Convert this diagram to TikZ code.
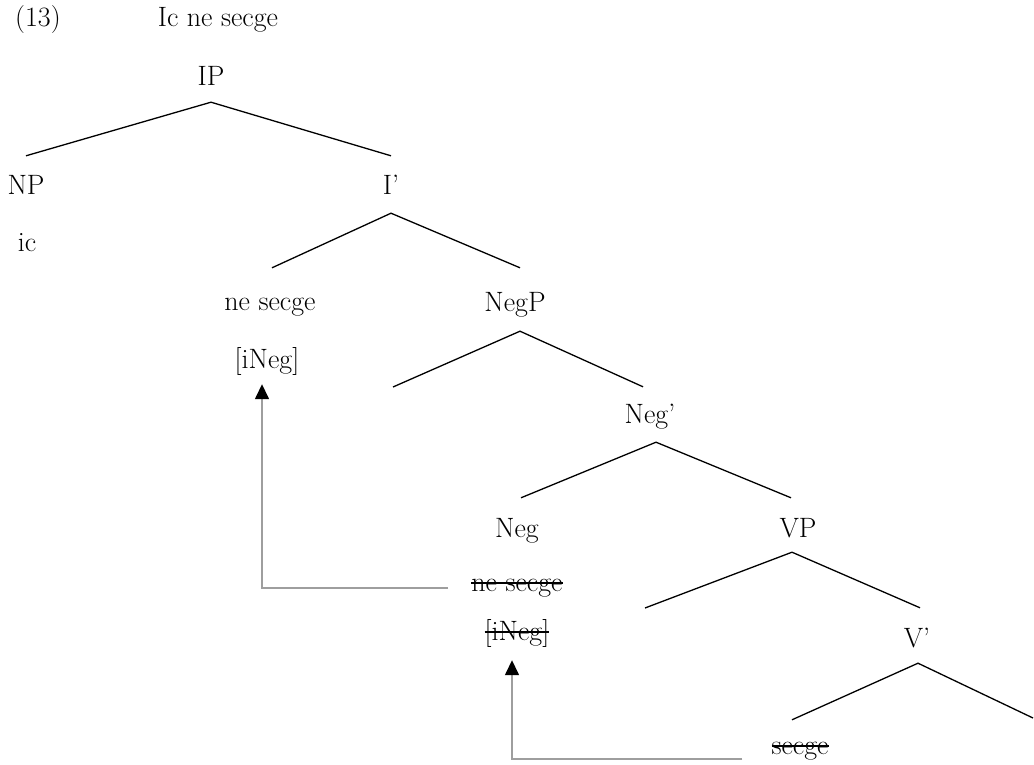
\documentclass[tikz,border=0pt]{standalone}
\usetikzlibrary{arrows.meta}

% strike a line through a piece of text
\newsavebox\strikebox
\newcommand\struck[1]{\sbox\strikebox{#1}\rlap{\usebox\strikebox}\rule[0.25em]{\wd\strikebox}{0.07em}}

\begin{document}
\begin{tikzpicture}[x=1pt,y=-1pt,
  lbl/.style={anchor=base,inner sep=0pt,text height=20pt,text depth=7pt,
              font=\fontsize{28}{32}\selectfont},
  branch/.style={line width=1.3pt,black},
  mv/.style={line width=1.5pt,draw=black!38,
             -{Triangle[length=15pt,width=14pt,color=black]}}]
\useasboundingbox (0,0) rectangle (1034,765);

% heading
\node[lbl] (num)   at (38,27)  {(13)};
\node[lbl] (title) at (218,27) {Ic ne secge};

% tree labels
\node[lbl] (IP)   at (211,86)  {IP};
\node[lbl] (NP)   at (26,195)  {NP};
\node[lbl] (Ib)   at (391,195) {I'};
\node[lbl] (ic)   at (27,251)  {ic};
\node[lbl] (ns1)  at (270,310) {ne secge};
\node[lbl] (NegP) at (515,311) {NegP};
\node[lbl] (in1)  at (267,368) {[iNeg]};
\node[lbl] (Negb) at (650,423) {Neg'};
\node[lbl] (Neg)  at (517,537) {Neg};
\node[lbl] (VP)   at (798,537) {VP};
\node[lbl] (ns2)  at (517,591) {\struck{ne secge}};
\node[lbl] (in2)  at (517,640) {\struck{[iNeg]}};
\node[lbl] (Vb)   at (917,647) {V'};
\node[lbl] (sg)   at (800,754) {\struck{secge}};

% empty branch ends
\coordinate (NegPspec) at (393,387);
\coordinate (VPspec)   at (645,608);
\coordinate (Vcomp)    at (1033,718);

% branches
\draw[branch] ([yshift=19pt]NP.north) -- ([yshift=-9pt]IP.south) -- ([yshift=19pt]Ib.north);
\draw[branch] ([xshift=2pt,yshift=22pt]ns1.north) -- ([yshift=-11pt]Ib.south)
              -- ([xshift=5pt,yshift=23pt]NegP.north);
\draw[branch] (NegPspec) -- ([xshift=5pt,yshift=-13pt]NegP.south)
              -- ([xshift=-7pt,yshift=16pt]Negb.north);
\draw[branch] ([xshift=4pt,yshift=19pt]Neg.north) -- ([xshift=6pt,yshift=-12pt]Negb.south)
              -- ([xshift=-7pt,yshift=19pt]VP.north);
\draw[branch] (VPspec) -- ([xshift=-6pt,yshift=-8pt]VP.south)
              -- ([xshift=3pt,yshift=19pt]Vb.north);
\draw[branch] ([xshift=-8pt,yshift=14pt]sg.north) -- ([xshift=1pt,yshift=-9pt]Vb.south)
              -- (Vcomp);

% movement arrows
\draw[mv] ([xshift=-23pt,yshift=-3.5pt]ns2.west) -| ([xshift=-5pt,yshift=-9pt]in1.south);
\draw[mv] ([xshift=-29pt,yshift=-11.5pt]sg.west) -| ([xshift=-5pt,yshift=-13pt]in2.south);
\end{tikzpicture}
\end{document}
